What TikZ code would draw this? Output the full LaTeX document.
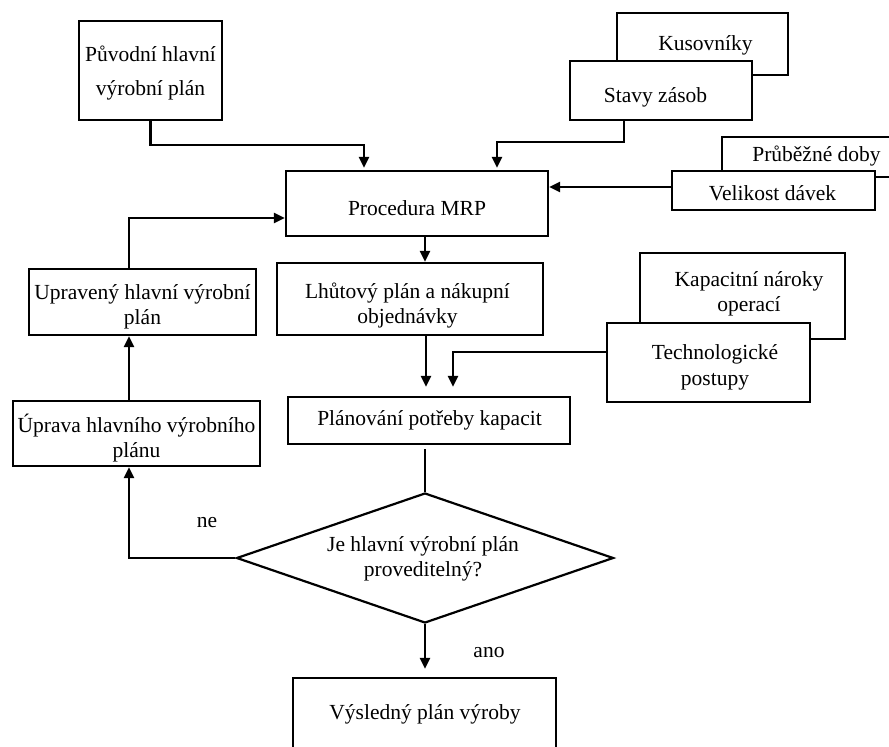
\documentclass[tikz,border=0pt]{standalone}
\usepackage{fontspec}
\setmainfont{Liberation Serif}
\usetikzlibrary{arrows.meta,shapes.geometric}
\begin{document}
\begin{tikzpicture}[x=1pt,y=-1pt,
  box/.style={draw, line width=2.2pt, fill=white, inner sep=0pt},
  arr/.style={draw, line width=2.2pt, -{Triangle[length=11pt,width=10pt]}},
  conn/.style={draw, line width=2.2pt},
  lbl/.style={inner sep=0pt, align=center, font=\fontsize{21.5}{25.5}\selectfont}]
\clip (0,0) rectangle (889,747);
\fill[white] (0,0) rectangle (889,747);
% boxes
\node[box, minimum width=143pt, minimum height=99pt] (pv) at (150.5,70.5) {};
\node[lbl] (pvt) at (150.5,73) {Původní hlavní\\[8pt]výrobní plán};
\node[box, minimum width=171pt, minimum height=62pt] (kus) at (702.5,44) {};
\node[lbl] (kust) at (705.5,45) {Kusovníky};
\node[box, minimum width=182pt, minimum height=59pt] (stavy) at (661,90.5) {};
\node[lbl] (stavyt) at (655.5,97) {Stavy zásob};
\node[box, minimum width=190pt, minimum height=40pt] (prub) at (817,157) {};
\node[lbl] (prubt) at (816.5,156) {Průběžné doby};
\node[box, minimum width=203pt, minimum height=39pt] (vel) at (773.5,190.5) {};
\node[lbl] (velt) at (772.5,193.5) {Velikost dávek};
\node[box, minimum width=262pt, minimum height=65pt] (mrp) at (417,203.5) {};
\node[lbl] (mrpt) at (417,208.5) {Procedura MRP};
\node[box, minimum width=266pt, minimum height=72pt] (lhu) at (410,299) {};
\node[lbl] (lhut) at (407.5,305.5) {Lhůtový plán a nákupní\\objednávky};
\node[box, minimum width=205pt, minimum height=86pt] (kap) at (742.5,296) {};
\node[lbl] (kapt) at (749,294) {Kapacitní nároky\\operací};
\node[box, minimum width=203pt, minimum height=79pt] (tech) at (708.5,362.5) {};
\node[lbl] (techt) at (715,367.5) {Technologické\\postupy};
\node[box, minimum width=227pt, minimum height=66pt] (upr) at (142.5,302) {};
\node[lbl] (uprt) at (142.5,307) {Upravený hlavní výrobní\\plán};
\node[box, minimum width=247pt, minimum height=65pt] (upra) at (136.5,433.5) {};
\node[lbl] (uprat) at (136.5,438) {Úprava hlavního výrobního\\plánu};
\node[box, minimum width=282pt, minimum height=47pt] (plan) at (429,420.5) {};
\node[lbl] (plant) at (429.5,420.5) {Plánování potřeby kapacit};
\node[box, diamond, minimum width=377pt, minimum height=130pt] (dia) at (425,558) {};
\node[lbl] (diat) at (423,559) {Je hlavní výrobní plán\\proveditelný?};
\node[box, minimum width=263pt, minimum height=72pt] (vys) at (424.5,714) {};
\node[lbl] (vyst) at (425,714.5) {Výsledný plán výroby};
% labels
\node[lbl] (ne) at (207,523) {ne};
\node[lbl] (ano) at (489,653) {ano};
% helper coordinates
\coordinate (j1) at (364,145);
\coordinate (j2) at (624,142);
\coordinate (j3) at (497,142);
\coordinate (j4) at (600,187);
\coordinate (j5) at (425,250);
\coordinate (j6) at (426,360);
\coordinate (j7) at (453,352);
\coordinate (j8) at (129,500);
\coordinate (j9) at (200,218);
% connectors
\draw[arr, shorten >=2pt] (pv.south) |- (j1) -- (j1 |- mrp.north);
\draw[arr, shorten >=2pt] (j2 |- stavy.south) -- (j2) -- (j3) -- (j3 |- mrp.north);
\draw[arr] (vel.west |- j4) -- (mrp.east |- j4);
\draw[arr] (j5 |- mrp.south) -- (j5 |- lhu.north);
\draw[arr, shorten >=9pt] (j6 |- lhu.south) -- (j6 |- plan.north);
\draw[arr, shorten >=9pt] (tech.west |- j7) -- (j7) -- (j7 |- plan.north);
\draw[conn, shorten <=4pt] (plan.south -| dia.north) -- (dia.north);
\draw[arr, shorten >=8pt] (dia.south) -- (dia.south |- vys.north);
\draw[arr] (dia.west) -| (j8 |- upra.south);
\draw[arr] (j8 |- upra.north) -- (j8 |- upr.south);
\draw[arr] (j8 |- upr.north) |- (mrp.west |- j9);
\end{tikzpicture}
\end{document}
